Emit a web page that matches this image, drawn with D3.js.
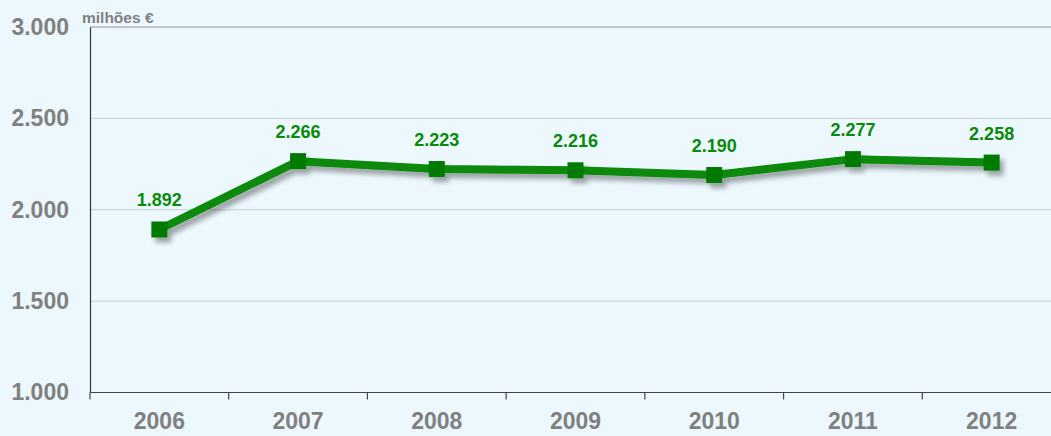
<!DOCTYPE html>
<html>
<head>
<meta charset="utf-8">
<script src="https://cdn.jsdelivr.net/npm/d3@7"></script>
<style>
  html, body { margin: 0; padding: 0; background: #ecf8fe; }
  svg { display: block; font-family: "Liberation Sans", Arial, sans-serif; }
</style>
</head>
<body>
<div id="chart"></div>
<script>
const years = ["2006", "2007", "2008", "2009", "2010", "2011", "2012"];
const values = [1892, 2266, 2223, 2216, 2190, 2277, 2258];
const yTicks = [1000, 1500, 2000, 2500, 3000];

const width = 1051, height = 436;
const margin = { top: 27, right: -10, bottom: 43.5, left: 90 };

const svg = d3.select("#chart").append("svg")
    .attr("width", width)
    .attr("height", height);

svg.append("rect").attr("width", width).attr("height", height).attr("fill", "#ecf8fe");

const defs = svg.append("defs");
const filter = defs.append("filter").attr("id", "shadow")
    .attr("x", "-10%").attr("y", "-10%").attr("width", "120%").attr("height", "140%");
filter.append("feDropShadow")
    .attr("dx", 4).attr("dy", 5).attr("stdDeviation", 2.5)
    .attr("flood-color", "#000").attr("flood-opacity", 0.35);

// plot runs slightly past the right edge, like the original
const x = d3.scaleBand().domain(years).range([margin.left, width - margin.right]);
const y = d3.scaleLinear().domain([1000, 3000]).range([height - margin.bottom, margin.top]);

const fmt = d => d3.format(",")(d).replace(",", ".");

// gridlines
svg.append("g").selectAll("line")
    .data(yTicks.filter(d => d > 1000))
    .join("line")
    .attr("x1", margin.left).attr("x2", width)
    .attr("y1", d => y(d)).attr("y2", d => y(d))
    .attr("stroke", d => d === 3000 ? "#b4b4b4" : "#c8ccd0")
    .attr("stroke-width", d => d === 3000 ? 1.5 : 1);

// y axis
const yAxis = svg.append("g")
    .attr("transform", `translate(${margin.left},0)`)
    .call(d3.axisLeft(y).tickValues(yTicks).tickSize(0).tickPadding(21).tickFormat(fmt));
yAxis.select(".domain").attr("stroke", "#333").attr("stroke-width", 1.2);
yAxis.selectAll("text")
    .attr("fill", "#808080").attr("font-size", 23).attr("font-weight", "bold")
    .attr("font-family", "Liberation Sans, Arial, sans-serif");

// x axis
const xAxis = svg.append("g")
    .attr("transform", `translate(0,${y(1000)})`)
    .call(d3.axisBottom(x).tickSize(0).tickPadding(20));
xAxis.select(".domain").remove();
xAxis.append("line")
    .attr("x1", margin.left).attr("x2", width)
    .attr("stroke", "#444").attr("stroke-width", 1.2);
xAxis.selectAll(".bnd")
    .data(years)
    .join("line")
    .attr("class", "bnd")
    .attr("x1", d => x(d)).attr("x2", d => x(d))
    .attr("y1", 0).attr("y2", 7)
    .attr("stroke", "#444").attr("stroke-width", 1.2);
xAxis.selectAll("text")
    .attr("fill", "#808080").attr("font-size", 23).attr("font-weight", "bold")
    .attr("font-family", "Liberation Sans, Arial, sans-serif");

// unit label
svg.append("text")
    .attr("x", 82).attr("y", 23)
    .attr("fill", "#808080").attr("font-size", 15.5).attr("font-weight", "bold")
    .text("milhões €");

const data = years.map((yr, i) => ({ year: yr, value: values[i] }));
const cx = d => x(d.year) + x.bandwidth() / 2;

const series = svg.append("g").attr("filter", "url(#shadow)");
series.append("path")
    .datum(data)
    .attr("fill", "none")
    .attr("stroke", "#078a07")
    .attr("stroke-width", 8)
    .attr("stroke-linejoin", "round")
    .attr("d", d3.line().x(cx).y(d => y(d.value)));

series.selectAll("rect")
    .data(data)
    .join("rect")
    .attr("x", d => cx(d) - 8)
    .attr("y", d => y(d.value) - 8)
    .attr("width", 16).attr("height", 16)
    .attr("fill", "#007a00");

svg.append("g").selectAll("text")
    .data(data)
    .join("text")
    .attr("x", cx)
    .attr("y", d => y(d.value) - 23)
    .attr("text-anchor", "middle")
    .attr("fill", "#0a8a0a")
    .attr("font-size", 18).attr("font-weight", "bold")
    .text(d => fmt(d.value));
</script>
</body>
</html>
